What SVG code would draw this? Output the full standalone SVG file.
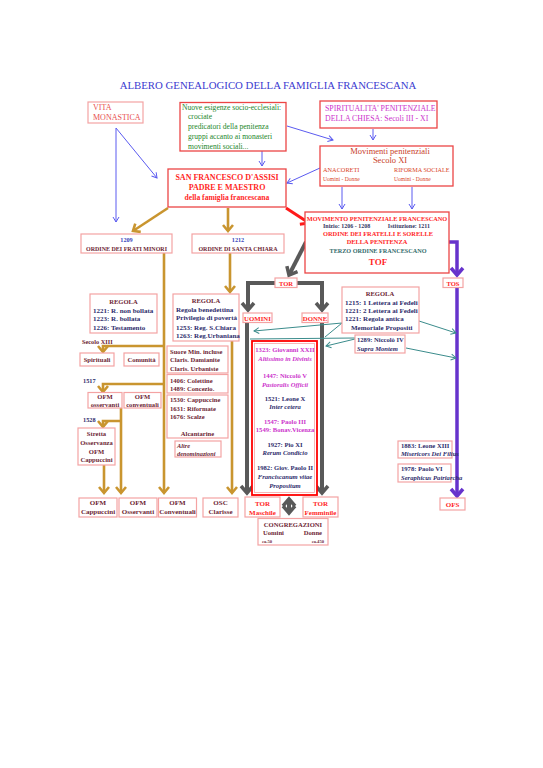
<svg xmlns="http://www.w3.org/2000/svg" width="543" height="768" viewBox="0 0 543 768">
<style>
text{font-family:"Liberation Serif","Times New Roman",serif;}
.b{font-weight:bold}
.i{font-style:italic}
.c{text-anchor:middle}
.e{text-anchor:end}
.box{fill:#fff;stroke:#f4a3a3;stroke-width:1.2}
.rbox{fill:#fff;stroke:#ec4545;stroke-width:1.3}
.mar{fill:#6e1f35}
.nav{fill:#2e2c6c}
.red{fill:#ff1f1f}
.mag{fill:#cc33cc}
.f7{font-size:7px}
.f65{font-size:6.6px}
.gold{stroke:#c9952f;stroke-width:2.6;fill:none}
.grey{stroke:#595959;stroke-width:4;fill:none}
.blue{stroke:#5b5bf0;stroke-width:1;fill:none}
.teal{stroke:#3b8c8c;stroke-width:1;fill:none}
.purp{stroke:#6633cc;stroke-width:3.5;fill:none}
</style>
<defs>
<marker id="ab" markerUnits="userSpaceOnUse" markerWidth="8" markerHeight="8" refX="6.5" refY="4" orient="auto"><path d="M1.5,1 L6.5,4 L1.5,7" fill="none" stroke="#5b5bf0" stroke-width="1"/></marker>
<marker id="at" markerUnits="userSpaceOnUse" markerWidth="8" markerHeight="8" refX="6.5" refY="4" orient="auto"><path d="M1.5,1 L6.5,4 L1.5,7" fill="none" stroke="#3b8c8c" stroke-width="1"/></marker>
<marker id="ag" markerUnits="userSpaceOnUse" markerWidth="14" markerHeight="14" refX="11" refY="7" orient="auto"><path d="M5,2 L11,7 L5,12" fill="none" stroke="#c9952f" stroke-width="2.6"/></marker>
<marker id="ar" markerUnits="userSpaceOnUse" markerWidth="16" markerHeight="16" refX="12" refY="8" orient="auto"><path d="M5,2 L12,8 L5,14" fill="none" stroke="#ff1a1a" stroke-width="3"/></marker>
<marker id="ak" markerUnits="userSpaceOnUse" markerWidth="16" markerHeight="16" refX="12" refY="8" orient="auto-start-reverse"><path d="M5,2 L12,8 L5,14" fill="none" stroke="#595959" stroke-width="3.5"/></marker>
<marker id="ap" markerUnits="userSpaceOnUse" markerWidth="16" markerHeight="16" refX="12" refY="8" orient="auto"><path d="M5,2 L12,8 L5,14" fill="none" stroke="#6633cc" stroke-width="3.5"/></marker>
</defs>
<rect width="543" height="768" fill="#fff"/>

<text x="268" y="88.5" class="c" font-size="10.8" fill="#3b3bd0">ALBERO GENEALOGICO DELLA FAMIGLIA FRANCESCANA</text>

<g id="connectors">
<path class="blue" d="M116,128 L116,222" marker-end="url(#ab)"/>
<path class="blue" d="M116,128 L157,178" marker-end="url(#ab)"/>
<path class="blue" d="M262,151 L262,166" marker-end="url(#ab)"/>
<path class="blue" d="M287,126 L333,140" marker-end="url(#ab)"/>
<path class="blue" d="M373,129 L373,140" marker-end="url(#ab)"/>
<path class="blue" d="M320,168 L287,183" marker-end="url(#ab)"/>
<path class="blue" d="M342,187 L342,209" marker-end="url(#ab)"/>
<path class="blue" d="M412,187 L412,209" marker-end="url(#ab)"/>
<path d="M286,208 L309,223" stroke="#ff1a1a" stroke-width="3" fill="none" marker-end="url(#ar)"/>
<path class="gold" d="M168,208 L133,231" marker-end="url(#ag)"/>
<path class="gold" d="M228,208 L228,231" marker-end="url(#ag)"/>
<path class="gold" d="M164,253 L164,493" marker-end="url(#ag)"/>
<path class="gold" d="M164,346 L103,346 L103,352" marker-end="url(#ag)"/>
<path class="gold" d="M164,384 L103,384 L103,392" marker-end="url(#ag)"/>
<path class="gold" d="M121,408 L121,493" marker-end="url(#ag)"/>
<path class="gold" d="M121,421 L103,421 L103,427" marker-end="url(#ag)"/>
<path class="gold" d="M104,465 L104,493" marker-end="url(#ag)"/>
<path class="gold" d="M230,253 L230,292" marker-end="url(#ag)"/>
<path class="gold" d="M232,341 L232,493" marker-end="url(#ag)"/>
<path class="grey" d="M306,242 L289,275" marker-end="url(#ak)"/>
<path class="grey" d="M286,283 L248,283 L248,310" marker-end="url(#ak)"/>
<path class="grey" d="M286,283 L322,283 L322,310" marker-end="url(#ak)"/>
<path class="grey" d="M247,322 L247,493" marker-end="url(#ak)"/>
<path class="grey" d="M322,322 L322,493" marker-end="url(#ak)"/>
<path class="grey" d="M289,499 L289,513" stroke-width="4.5" marker-start="url(#ak)" marker-end="url(#ak)"/>
<path class="purp" d="M449,242 L457,242 L457,275" marker-end="url(#ap)"/>
<path class="purp" d="M457,287 L457,496" marker-end="url(#ap)"/>
<path class="teal" d="M342,323 L254,331" marker-end="url(#at)"/>
<path class="teal" d="M342,323 L325,337"/>
<path class="teal" d="M355,338 L250,339"/>
<path class="teal" d="M355,339 L326,346" marker-end="url(#at)"/>
<path class="teal" d="M419,321 L456,333" marker-end="url(#at)"/>
<path class="teal" d="M406,348 L456,358" marker-end="url(#at)"/>
</g>

<g id="vita-monastica">
<rect class="box" x="88" y="102" width="55" height="21"/>
<text x="93" y="109.5" font-size="8" fill="#e8504f">VITA</text>
<text x="93" y="119.5" font-size="8" fill="#e8504f">MONASTICA</text>
</g>

<g id="nuove-esigenze">
<rect class="rbox" x="180" y="102.5" width="106" height="48.5"/>
<g font-size="7.6" fill="#23862a">
<text x="182" y="109.5">Nuove esigenze socio-ecclesiali:</text>
<text x="188" y="119.2">crociate</text>
<text x="188" y="129">predicatori della penitenza</text>
<text x="188" y="139">gruppi accanto ai monasteri</text>
<text x="188" y="148.6">movimenti sociali...</text>
</g>
</g>

<g id="spiritualita">
<rect class="rbox" x="320" y="101" width="117" height="27"/>
<text x="325" y="111" font-size="7.8" class="mag">SPIRITUALITA' PENITENZIALE</text>
<text x="325" y="120.5" font-size="7.8" class="mag">DELLA CHIESA: Secoli III - XI</text>
</g>

<g id="movimenti-penitenziali">
<rect class="rbox" x="320" y="146" width="133" height="40"/>
<text x="390" y="154" class="c" font-size="8.5" fill="#c8402a">Movimenti penitenziali</text>
<text x="390" y="162.5" class="c" font-size="8.5" fill="#c8402a">Secolo XI</text>
<text x="323" y="172.3" font-size="6.3" fill="#d9441f">ANACORETI</text>
<text x="323" y="181" font-size="5.6" fill="#d9441f">Uomini - Donne</text>
<text x="394" y="172.3" font-size="6.2" fill="#d9441f">RIFORMA SOCIALE</text>
<text x="394" y="181" font-size="5.6" fill="#d9441f">Uomini - Donne</text>
</g>

<g id="san-francesco">
<rect class="rbox" x="168" y="169" width="118" height="38" stroke="#ff4d4d"/>
<text x="227" y="180" class="c b red" font-size="8">SAN FRANCESCO D'ASSISI</text>
<text x="227" y="190" class="c b red" font-size="8">PADRE E MAESTRO</text>
<text x="227" y="200" class="c b red" font-size="7.6">della famiglia francescana</text>
</g>

<g id="ordine-frati-minori">
<rect class="box" x="81" y="234" width="91" height="19"/>
<text x="126.5" y="242.3" class="c b" font-size="6.2" fill="#3344bb">1209</text>
<text x="126.5" y="251" class="c b mar" font-size="6">ORDINE DEI FRATI MINORI</text>
</g>

<g id="ordine-santa-chiara">
<rect class="box" x="192" y="234" width="92" height="19"/>
<text x="238" y="242.3" class="c b" font-size="6.2" fill="#3344bb">1212</text>
<text x="238" y="251" class="c b mar" font-size="6">ORDINE DI SANTA CHIARA</text>
</g>

<g id="movimento-penitenziale">
<rect class="rbox" x="305" y="212" width="144" height="61" stroke="#f04040"/>
<text x="377" y="220.5" class="c b red" font-size="6.3">MOVIMENTO PENITENZIALE FRANCESCANO</text>
<text x="323" y="228.3" class="b" font-size="6" fill="#353563">Inizio: 1206 - 1208</text>
<text x="430" y="228.3" class="b e" font-size="6" fill="#353563">Istituzione: 1211</text>
<text x="378" y="235.5" class="c b red" font-size="6.4">ORDINE DEI FRATELLI E SORELLE</text>
<text x="377" y="244" class="c b red" font-size="6.4">DELLA PENITENZA</text>
<text x="378" y="252.5" class="c b" font-size="6.2" fill="#336b6b">TERZO ORDINE FRANCESCANO</text>
<text x="378" y="265" class="c b red" font-size="9">TOF</text>
</g>

<g id="regola-ofm">
<rect class="box" x="90" y="294" width="67" height="39"/>
<text x="123.5" y="303.5" class="c b mar f65">REGOLA</text>
<text x="93" y="312.5" class="b nav f7">1221: R. non bollata</text>
<text x="93" y="320.8" class="b nav f7">1223: R. bollata</text>
<text x="93" y="329.5" class="b nav f7">1226: Testamento</text>
</g>

<text id="secolo-xiii" x="82" y="343.5" class="b mar" font-size="6.3">Secolo XIII</text>

<g id="spirituali">
<rect class="box" x="80" y="353" width="34" height="13"/>
<text x="97" y="362.3" class="c b mar f65">Spirituali</text>
</g>
<g id="comunita">
<rect class="box" x="124" y="353" width="35" height="13"/>
<text x="141.5" y="362.3" class="c b mar f65">Comunità</text>
</g>

<text id="anno-1517" x="83" y="382.5" class="b nav" font-size="6.3">1517</text>

<g id="ofm-osservanti">
<rect class="box" x="88" y="392.5" width="34" height="15.5"/>
<text x="105" y="398.8" class="c b mar f65">OFM</text>
<text x="105" y="406.5" class="c b mar f65">osservanti</text>
</g>
<g id="ofm-conventuali">
<rect class="box" x="124" y="392.5" width="37" height="15.5"/>
<text x="142.5" y="398.8" class="c b mar f65">OFM</text>
<text x="142.5" y="406.5" class="c b mar f65">conventuali</text>
</g>

<text id="anno-1528" x="83" y="421.5" class="b nav" font-size="6.3">1528</text>

<g id="stretta-osservanza">
<rect class="box" x="78" y="428" width="37" height="37"/>
<text x="96.5" y="435.5" class="c b mar f65">Stretta</text>
<text x="96.5" y="444.5" class="c b mar f65">Osservanza</text>
<text x="96.5" y="453.5" class="c b mar f65">OFM</text>
<text x="96.5" y="462.3" class="c b mar f65">Cappuccini</text>
</g>

<g id="regola-clarisse">
<rect class="box" x="173" y="294" width="66" height="47"/>
<text x="206" y="303" class="c b mar f65">REGOLA</text>
<text x="176" y="311.8" class="b nav f7">Regola benedettina</text>
<text x="176" y="320.3" class="b nav f7">Privilegio di povertà</text>
<text x="176" y="329.5" class="b nav f7">1253: Reg. S.Chiara</text>
<text x="176" y="338.3" class="b nav f7">1263: Reg.Urbaniana</text>
</g>

<g id="suore-minori">
<rect class="box" x="167" y="346" width="61" height="27"/>
<text x="170" y="353.5" class="b mar f65">Suore Min. incluse</text>
<text x="170" y="361.8" class="b mar f65">Claris. Damianite</text>
<text x="170" y="370.5" class="b mar f65">Claris. Urbaniste</text>
</g>
<g id="colettine">
<rect class="box" x="167" y="374.5" width="61" height="18.5"/>
<text x="170" y="382.5" class="b mar f65">1406: Colettine</text>
<text x="170" y="391" class="b mar f65">1489: Concezio.</text>
</g>
<g id="cappuccine">
<rect class="box" x="167" y="395" width="61" height="43"/>
<text x="170" y="401.8" class="b mar f65">1530: Cappuccine</text>
<text x="170" y="410.5" class="b mar f65">1631: Riformate</text>
<text x="170" y="418.8" class="b mar f65">1676: Scalze</text>
<text x="197.5" y="435.5" class="c b mar f65">Alcantarine</text>
</g>
<g id="altre-denominazioni">
<rect class="box" x="175" y="441" width="46" height="16"/>
<text x="177" y="447.8" class="b i mar" font-size="6.3">Altre</text>
<text x="177" y="455.5" class="b i mar" font-size="6.3">denominazioni</text>
</g>

<g id="tor">
<rect class="box" x="275" y="278" width="22" height="9.5"/>
<text x="286" y="285.6" class="c b red f65">TOR</text>
</g>
<g id="uomini">
<rect class="box" x="243" y="313" width="29" height="9.5"/>
<text x="257.5" y="320.5" class="c b red" font-size="6.8">UOMINI</text>
</g>
<g id="donne">
<rect class="box" x="302" y="313" width="26" height="9.5"/>
<text x="315" y="320.5" class="c b red" font-size="6.8">DONNE</text>
</g>

<g id="documenti-pontifici">
<rect x="252" y="341" width="65" height="154" fill="#fff" stroke="#ff0000" stroke-width="1.8"/>
<rect x="254.5" y="343.5" width="60" height="149" fill="none" stroke="#f6a6a6" stroke-width="0.8"/>
<g class="c" font-size="6.6">
<text x="285" y="352.3" class="b mag">1323: Giovanni XXII</text>
<text x="285" y="361.3" class="b i mag">Altissimo in Divinis</text>
<text x="285" y="378.3" class="b mag">1447: Niccolò V</text>
<text x="285" y="387.3" class="b i mag">Pastoralis Officii</text>
<text x="285" y="401.3" class="b nav">1521: Leone X</text>
<text x="285" y="409.3" class="b i nav">Inter cetera</text>
<text x="285" y="424.3" class="b mag">1547: Paolo III</text>
<text x="285" y="432.3" class="b mag">1549: Bonav.Vicenza</text>
<text x="285" y="447.3" class="b nav">1927: Pio XI</text>
<text x="285" y="455.3" class="b i nav">Rerum Condicio</text>
<text x="285" y="470.3" class="b nav">1982: Giov. Paolo II</text>
<text x="285" y="479.3" class="b i nav">Franciscanum vitae</text>
<text x="285" y="488.3" class="b i nav">Propositum</text>
</g>
</g>

<g id="regola-tof">
<rect class="box" x="342" y="287" width="77" height="46"/>
<text x="380" y="295.5" class="c b mar f65">REGOLA</text>
<text x="345" y="304.5" class="b nav f7">1215: 1 Lettera ai Fedeli</text>
<text x="345" y="312.5" class="b nav f7">1221: 2 Lettera ai Fedeli</text>
<text x="345" y="320.7" class="b nav f7">1221: Regola antica</text>
<text x="351" y="329.5" class="b nav f7">Memoriale Propositi</text>
</g>
<g id="niccolo-iv">
<rect class="box" x="355" y="335" width="50" height="18"/>
<text x="357" y="341.8" class="b nav f65">1289: Niccolò IV</text>
<text x="357" y="350.5" class="b i nav f65">Supra Montem</text>
</g>

<g id="tos">
<rect class="box" x="443" y="278" width="20" height="9.5"/>
<text x="453" y="285.6" class="c b red f65">TOS</text>
</g>

<g id="leone-xiii">
<rect class="box" x="398" y="441" width="54" height="17"/>
<text x="401" y="447.6" class="b nav f65">1883: Leone XIII</text>
<text x="401" y="456" class="b i nav f65">Misericors Dei Filius</text>
</g>
<g id="paolo-vi">
<rect class="box" x="398" y="464" width="53" height="18"/>
<text x="401" y="470.6" class="b nav f65">1978: Paolo VI</text>
<text x="401" y="479.5" class="b i nav f65">Seraphicus Patriarcha</text>
</g>

<g id="ofm-cappuccini">
<rect class="box" x="79" y="498" width="38" height="19"/>
<text x="98" y="504.5" class="c b mar f7">OFM</text>
<text x="98" y="514.3" class="c b mar f7">Cappuccini</text>
</g>
<g id="ofm-osservanti-b">
<rect class="box" x="119" y="498" width="38" height="19"/>
<text x="138" y="504.5" class="c b mar f7">OFM</text>
<text x="138" y="514.3" class="c b mar f7">Osservanti</text>
</g>
<g id="ofm-conventuali-b">
<rect class="box" x="158.5" y="498" width="38" height="19"/>
<text x="177.5" y="504.5" class="c b mar f7">OFM</text>
<text x="177.5" y="514.3" class="c b mar f7">Conventuali</text>
</g>
<g id="osc-clarisse">
<rect class="box" x="203" y="498" width="35" height="19"/>
<text x="220.5" y="504.5" class="c b mar f7">OSC</text>
<text x="220.5" y="514.3" class="c b mar f7">Clarisse</text>
</g>
<g id="tor-maschile">
<rect class="box" x="245" y="497" width="35" height="20"/>
<text x="262.5" y="505.5" class="c b red f7">TOR</text>
<text x="262.5" y="514.5" class="c b red f7">Maschile</text>
</g>
<g id="tor-femminile">
<rect class="box" x="303" y="497" width="35" height="20"/>
<text x="320.5" y="505.5" class="c b red f7">TOR</text>
<text x="320.5" y="514.5" class="c b red f7">Femminile</text>
</g>
<g id="congregazioni">
<rect class="box" x="258" y="518.5" width="70" height="26.5"/>
<text x="293" y="526.6" class="c b mar f65">CONGREGAZIONI</text>
<text x="263" y="534.6" class="b mar f65">Uomini</text>
<text x="322" y="534.6" class="e b mar f65">Donne</text>
<text x="262" y="543" class="b mar" font-size="4.6">ca.50</text>
<text x="324" y="543" class="e b mar" font-size="4.6">ca.450</text>
</g>
<g id="ofs">
<rect class="box" x="440" y="498" width="25" height="12"/>
<text x="452.5" y="506.8" class="c b red f7">OFS</text>
</g>
</svg>
